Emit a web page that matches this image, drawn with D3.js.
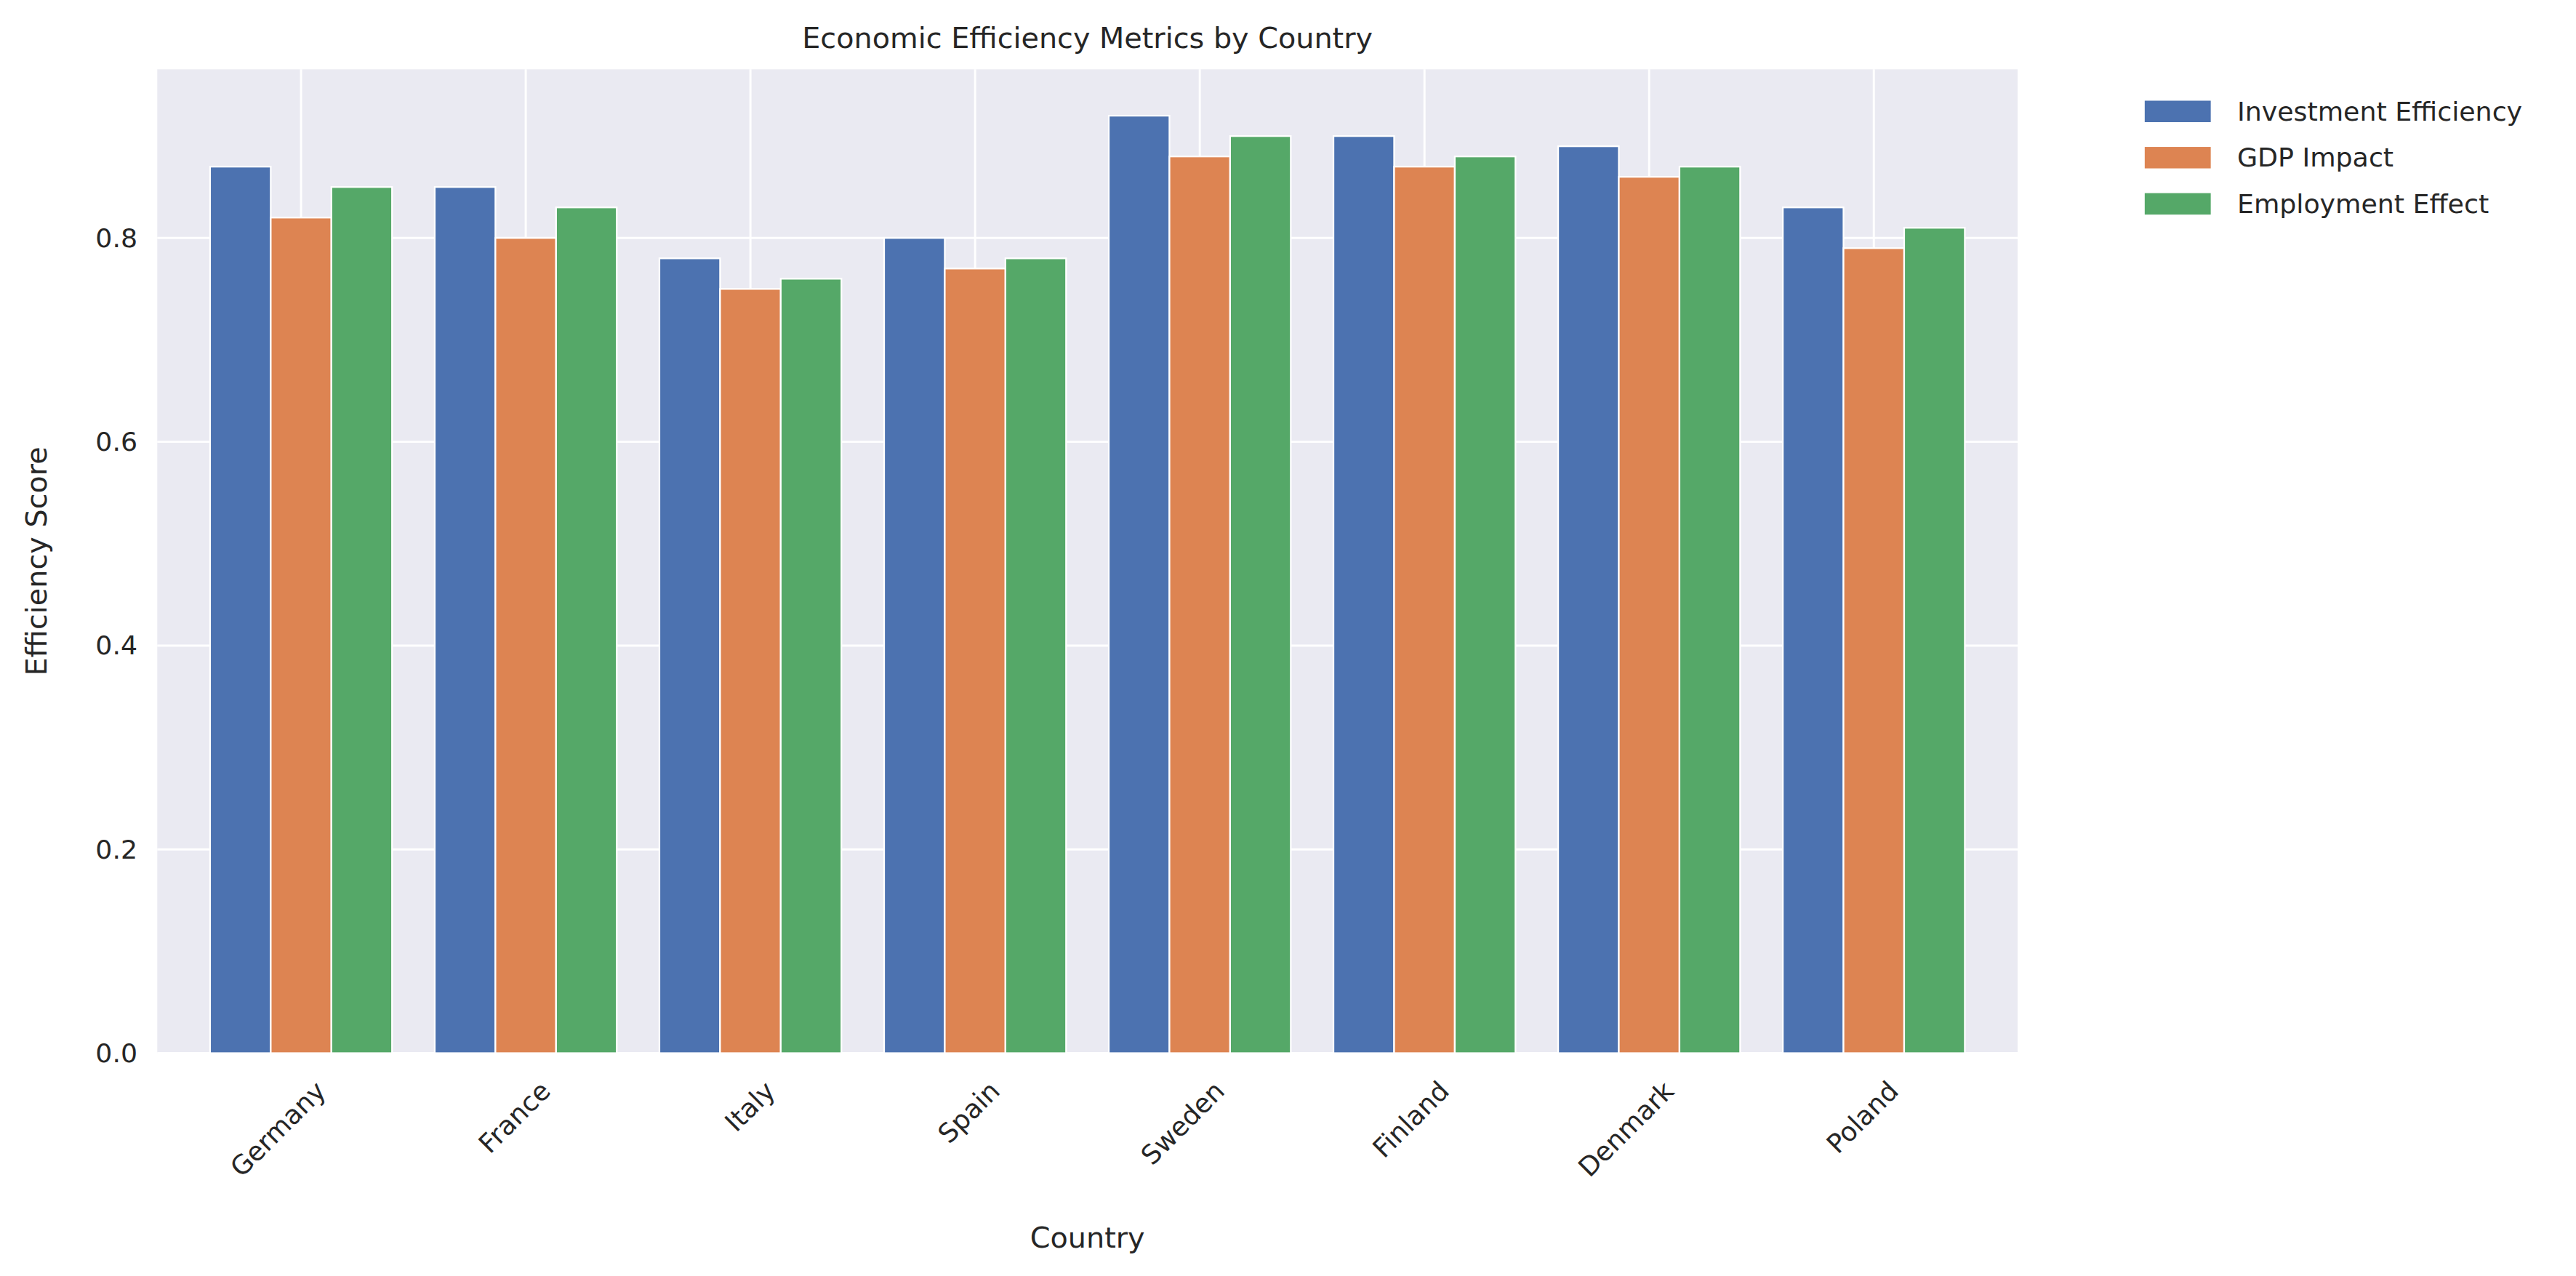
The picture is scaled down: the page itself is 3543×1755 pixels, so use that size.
<!DOCTYPE html><html><head><script src="https://cdn.jsdelivr.net/npm/d3@7"></script>
<style>body{margin:0;background:#fff}</style></head><body>
<script>
const countries=["Germany","France","Italy","Spain","Sweden","Finland","Denmark","Poland"];
const seriesNames=["Investment Efficiency","GDP Impact","Employment Effect"];
const investment=[0.87,0.85,0.78,0.80,0.92,0.90,0.89,0.83];
const gdp=[0.82,0.80,0.75,0.77,0.88,0.87,0.86,0.79];
const employment=[0.85,0.83,0.76,0.78,0.90,0.88,0.87,0.81];
const yTicks=[0,0.2,0.4,0.6,0.8];
const colors=["#4c72b0","#dd8452","#55a868"];
const series=[investment,gdp,employment];
const W=1560,H=773;
const svg=d3.select("body").append("svg").attr("width",3543).attr("height",1755).attr("viewBox",`0 0 ${W} ${H}`);
const L=95,R=1222,T=42,B=638;
const x=d3.scaleLinear().domain([-0.64,7.64]).range([L,R]);
const y=d3.scaleLinear().domain([0,0.9655]).range([B,T]);
const font="DejaVu Sans, Arial, sans-serif";
svg.append("rect").attr("x",L).attr("y",T).attr("width",R-L).attr("height",B-T).attr("fill","#eaeaf2");
const g=svg.append("g");
yTicks.forEach(t=>g.append("line").attr("x1",L).attr("x2",R).attr("y1",y(t)).attr("y2",y(t)).attr("stroke","#fff").attr("stroke-width",1.3));
countries.forEach((c,i)=>g.append("line").attr("x1",x(i)).attr("x2",x(i)).attr("y1",T).attr("y2",B).attr("stroke","#fff").attr("stroke-width",1.3));
const bw=0.27;
series.forEach((s,k)=>{
 g.selectAll(null).data(s).enter().append("rect")
  .attr("x",(d,i)=>x(i+(k-1)*bw-bw/2)).attr("width",x(bw)-x(0))
  .attr("y",d=>y(d)).attr("height",d=>y(0)-y(d))
  .attr("fill",colors[k]).attr("stroke","#fff").attr("stroke-width",1);
});
yTicks.forEach(t=>svg.append("text").attr("x",L-12).attr("y",y(t)+5.5).attr("text-anchor","end").attr("font-family",font).attr("font-size",16).attr("fill","#262626").text(t.toFixed(1)));
countries.forEach((c,i)=>svg.append("text").attr("transform",`translate(${x(i)+8},${B+16}) rotate(-45)`).attr("text-anchor","end").attr("dy","0.7em").attr("font-family",font).attr("font-size",16).attr("fill","#262626").text(c));
svg.append("text").attr("x",(L+R)/2).attr("y",756).attr("text-anchor","middle").attr("font-family",font).attr("font-size",17.5).attr("fill","#262626").text("Country");
svg.append("text").attr("transform",`translate(28,${(T+B)/2}) rotate(-90)`).attr("text-anchor","middle").attr("font-family",font).attr("font-size",17.5).attr("fill","#262626").text("Efficiency Score");
svg.append("text").attr("x",(L+R)/2).attr("y",29).attr("text-anchor","middle").attr("font-family",font).attr("font-size",17.5).attr("fill","#262626").text("Economic Efficiency Metrics by Country");
seriesNames.forEach((n,k)=>{
 const yy=67+k*28;
 svg.append("rect").attr("x",1299).attr("y",yy-6).attr("width",40).attr("height",13).attr("fill",colors[k]);
 svg.append("text").attr("x",1355).attr("y",yy+6).attr("font-family",font).attr("font-size",16).attr("fill","#262626").text(n);
});
</script></body></html>
